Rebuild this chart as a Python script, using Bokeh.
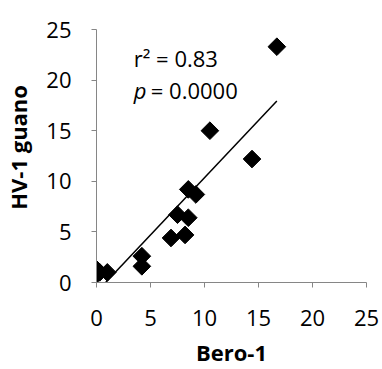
import numpy as np
from bokeh.plotting import figure
from bokeh.models import Range1d, Label, FixedTicker
from bokeh.embed import file_html
from bokeh.resources import INLINE

# Data
bero = [0.0, 0.0, 0.3, 1.0, 4.2, 4.2, 6.9, 7.5, 8.2, 8.5, 8.5, 9.2, 10.5, 14.4, 16.7]
hv_guano = [0.8, 1.3, 1.0, 1.0, 1.6, 2.6, 4.4, 6.7, 4.7, 9.2, 6.4, 8.7, 15.0, 12.2, 23.3]
ticks = [0, 5, 10, 15, 20, 25]
x_title = "Bero-1"
y_title = "HV-1 guano"
r2_text = "r² = 0.83"
p_symbol = "p"
p_text = "= 0.0000"

FONT = "Open Sans"
AXIS_COLOR = "#868686"

p = figure(width=382, height=369, output_backend="svg", toolbar_location=None,
           x_range=Range1d(0, 25), y_range=Range1d(0, 25),
           min_border_left=96, min_border_right=16, min_border_top=29, min_border_bottom=86)
p.outline_line_color = None
p.grid.visible = False
p.background_fill_color = "white"
p.border_fill_color = "white"

for ax in (p.xaxis[0], p.yaxis[0]):
    ax.ticker = FixedTicker(ticks=ticks)
    ax.axis_line_color = AXIS_COLOR
    ax.major_tick_line_color = AXIS_COLOR
    ax.major_tick_out = 5
    ax.major_tick_in = 0
    ax.minor_tick_line_color = None
    ax.major_label_text_font = FONT
    ax.major_label_text_font_size = "22px"
    ax.major_label_text_color = "black"
    ax.axis_label_text_font = FONT
    ax.axis_label_text_font_size = "22px"
    ax.axis_label_text_font_style = "bold"
    ax.axis_label_text_color = "black"

p.xaxis.axis_label = x_title
p.yaxis.axis_label = "\u00a0\u00a0\u00a0" + y_title
p.xaxis.major_label_standoff = 22
p.yaxis.major_label_standoff = 20
p.xaxis.axis_label_standoff = 8
p.yaxis.axis_label_standoff = 10

# regression line
slope, intercept = np.polyfit(bero, hv_guano, 1)
xs = [min(bero), max(bero)]
ys = [slope * x + intercept for x in xs]
p.line(xs, ys, line_color="black", line_width=1.5)

p.scatter(bero, hv_guano, marker="square", angle=np.pi / 4, size=12.5,
          fill_color="black", line_color="black")

p.add_layout(Label(x=3.45, y=22.2, text=r2_text, text_font=FONT, text_font_size="22px",
                   text_baseline="middle", text_color="black"))
p.add_layout(Label(x=3.45, y=19.0, text=p_symbol, text_font=FONT, text_font_size="22px",
                   text_font_style="italic", text_baseline="middle", text_color="black"))
p.add_layout(Label(x=3.45, y=19.0, x_offset=17, text=p_text, text_font=FONT, text_font_size="22px",
                   text_baseline="middle", text_color="black"))

open("out.html", "w").write(file_html(p, INLINE))
